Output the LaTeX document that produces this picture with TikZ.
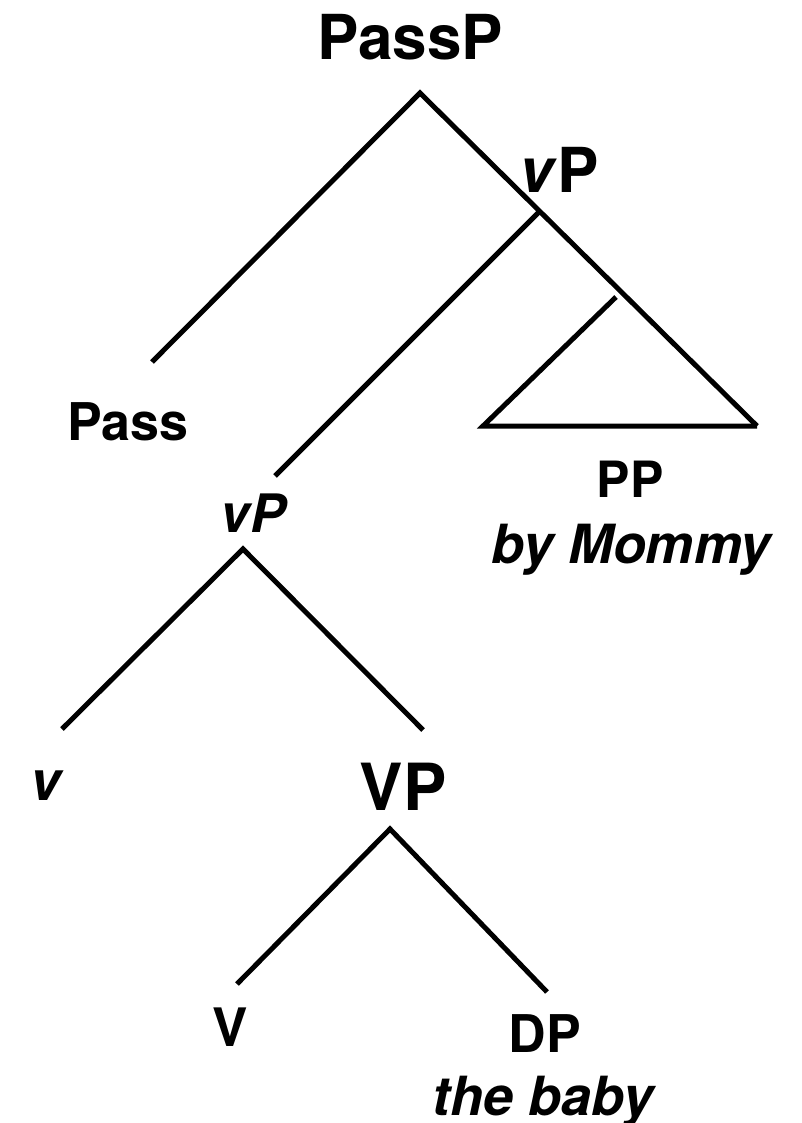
\documentclass[tikz,border=0pt]{standalone}
\usepackage{fontspec}
\setmainfont{TeX Gyre Heros}
\newcommand\lfs[1]{\fontsize{#1}{#1}\selectfont}
\begin{document}
\begin{tikzpicture}[x=1pt,y=-1pt,
  branch/.style={line width=5pt,line cap=butt,line join=miter},
  lbl/.style={inner sep=0pt,anchor=base}]
\useasboundingbox (0,0) rectangle (801,1123);
% branch points
\coordinate (passpTop) at (420,93);
\coordinate (passEnd) at (152,362);
\coordinate (vpJoin) at (540,211);
\coordinate (ppR) at (757,426);
\coordinate (vpTwoEnd) at (275,476);
\coordinate (ppTop) at (616,297);
\coordinate (ppL) at (483,426);
\coordinate (vpTwoTop) at (243,549);
\coordinate (vEnd) at (62,729);
\coordinate (VPEnd) at (423,730);
\coordinate (VPTop) at (390,829);
\coordinate (VEnd) at (237,984);
\coordinate (DPEnd) at (547,992);
% labels
\node[lbl,font=\bfseries\lfs{62}] (PassP) at (410,60) {PassP};
\node[lbl,font=\bfseries\lfs{62}] (vPtop) at (559,193) {\textit{v}P};
\node[lbl,font=\bfseries\lfs{52}] (Pass) at (128,440) {Pass};
\node[lbl,font=\bfseries\lfs{50}] (PP) at (630,497) {PP};
\node[lbl,font=\bfseries\itshape\lfs{54}] (byMommy) at (631,563) {by Mommy};
\node[lbl,font=\bfseries\itshape\lfs{53}] (vPmid) at (253,532) {vP};
\node[lbl,font=\bfseries\itshape\lfs{55}] (v) at (46,800) {v};
\node[lbl,font=\bfseries\lfs{65}] (VP) at (403,810) {VP};
\node[lbl,font=\bfseries\lfs{53}] (V) at (230,1046) {V};
\node[lbl,font=\bfseries\lfs{52}] (DP) at (545,1052) {DP};
\node[lbl,font=\bfseries\itshape\lfs{54}] (baby) at (543,1115) {the baby};
% branches
\draw[branch] (passEnd) -- (passpTop) -- (ppR);
\draw[branch] (vpJoin) -- (vpTwoEnd);
\draw[branch] (ppTop) -- (ppL) -- (ppR);
\draw[branch] (vEnd) -- (vpTwoTop) -- (VPEnd);
\draw[branch] (VEnd) -- (VPTop) -- (DPEnd);
\end{tikzpicture}
\end{document}
